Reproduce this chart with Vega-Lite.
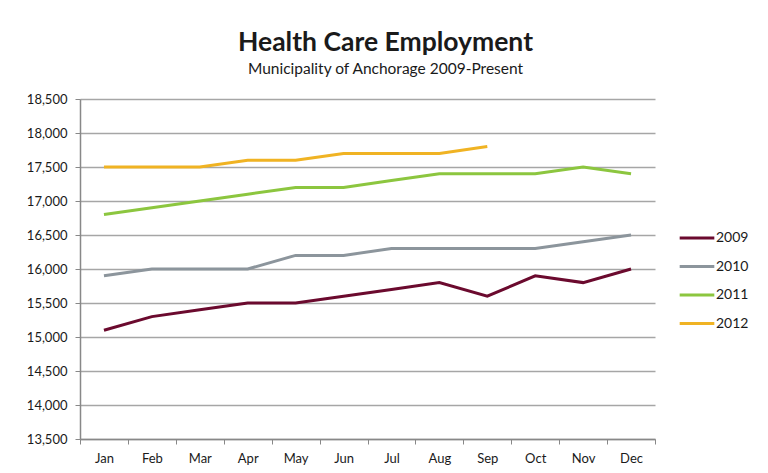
{
  "$schema": "https://vega.github.io/schema/vega-lite/v6.json",
  "width": 575,
  "height": 340,
  "autosize": {"type": "none"},
  "padding": {"left": 80, "top": 99, "right": 113, "bottom": 34},
  "background": "white",
  "title": {
    "text": "Health Care Employment",
    "subtitle": "Municipality of Anchorage 2009-Present",
    "anchor": "middle",
    "dx": 18,
    "offset": 16,
    "font": "Lato",
    "fontSize": 26.5,
    "fontWeight": "bold",
    "color": "#1a1a1a",
    "subtitleFont": "Lato",
    "subtitleFontSize": 15.5,
    "subtitleColor": "#1a1a1a",
    "subtitlePadding": 5
  },
  "data": {
    "values": [
      {"month": "Jan", "year": "2009", "value": 15100},
      {"month": "Feb", "year": "2009", "value": 15300},
      {"month": "Mar", "year": "2009", "value": 15400},
      {"month": "Apr", "year": "2009", "value": 15500},
      {"month": "May", "year": "2009", "value": 15500},
      {"month": "Jun", "year": "2009", "value": 15600},
      {"month": "Jul", "year": "2009", "value": 15700},
      {"month": "Aug", "year": "2009", "value": 15800},
      {"month": "Sep", "year": "2009", "value": 15600},
      {"month": "Oct", "year": "2009", "value": 15900},
      {"month": "Nov", "year": "2009", "value": 15800},
      {"month": "Dec", "year": "2009", "value": 16000},
      {"month": "Jan", "year": "2010", "value": 15900},
      {"month": "Feb", "year": "2010", "value": 16000},
      {"month": "Mar", "year": "2010", "value": 16000},
      {"month": "Apr", "year": "2010", "value": 16000},
      {"month": "May", "year": "2010", "value": 16200},
      {"month": "Jun", "year": "2010", "value": 16200},
      {"month": "Jul", "year": "2010", "value": 16300},
      {"month": "Aug", "year": "2010", "value": 16300},
      {"month": "Sep", "year": "2010", "value": 16300},
      {"month": "Oct", "year": "2010", "value": 16300},
      {"month": "Nov", "year": "2010", "value": 16400},
      {"month": "Dec", "year": "2010", "value": 16500},
      {"month": "Jan", "year": "2011", "value": 16800},
      {"month": "Feb", "year": "2011", "value": 16900},
      {"month": "Mar", "year": "2011", "value": 17000},
      {"month": "Apr", "year": "2011", "value": 17100},
      {"month": "May", "year": "2011", "value": 17200},
      {"month": "Jun", "year": "2011", "value": 17200},
      {"month": "Jul", "year": "2011", "value": 17300},
      {"month": "Aug", "year": "2011", "value": 17400},
      {"month": "Sep", "year": "2011", "value": 17400},
      {"month": "Oct", "year": "2011", "value": 17400},
      {"month": "Nov", "year": "2011", "value": 17500},
      {"month": "Dec", "year": "2011", "value": 17400},
      {"month": "Jan", "year": "2012", "value": 17500},
      {"month": "Feb", "year": "2012", "value": 17500},
      {"month": "Mar", "year": "2012", "value": 17500},
      {"month": "Apr", "year": "2012", "value": 17600},
      {"month": "May", "year": "2012", "value": 17600},
      {"month": "Jun", "year": "2012", "value": 17700},
      {"month": "Jul", "year": "2012", "value": 17700},
      {"month": "Aug", "year": "2012", "value": 17700},
      {"month": "Sep", "year": "2012", "value": 17800}
    ]
  },
  "mark": {"type": "line", "strokeWidth": 3},
  "encoding": {
    "x": {
      "field": "month",
      "type": "ordinal",
      "sort": ["Jan","Feb","Mar","Apr","May","Jun","Jul","Aug","Sep","Oct","Nov","Dec"],
      "scale": {"type": "band", "paddingInner": 0, "paddingOuter": 0},
      "axis": {
        "title": null,
        "labelAngle": 0,
        "labelFont": "Lato",
        "labelFontSize": 13,
        "labelColor": "#1a1a1a",
        "labelPadding": 8,
        "domainColor": "#888888",
        "domainWidth": 1.5,
        "tickColor": "#888888",
        "tickWidth": 1,
        "tickSize": 5,
        "tickBand": "extent",
        "grid": false
      }
    },
    "y": {
      "field": "value",
      "type": "quantitative",
      "scale": {"domain": [13500, 18500], "zero": false, "nice": false},
      "axis": {
        "title": null,
        "values": [13500,14000,14500,15000,15500,16000,16500,17000,17500,18000,18500],
        "format": ",d",
        "labelFont": "Lato",
        "labelFontSize": 13,
        "labelColor": "#1a1a1a",
        "labelPadding": 8,
        "domainColor": "#888888",
        "domainWidth": 1.5,
        "tickColor": "#888888",
        "tickSize": 5,
        "grid": true,
        "gridColor": "#a6a6a6",
        "gridWidth": 1.5
      }
    },
    "color": {
      "field": "year",
      "type": "nominal",
      "scale": {"domain": ["2009","2010","2011","2012"], "range": ["#6b0a2e","#8c959c","#8cc63f","#f0b323"]},
      "legend": {
        "title": null,
        "orient": "none",
        "legendX": 598,
        "legendY": 120,
        "symbolType": "stroke",
        "symbolSize": 1200,
        "symbolStrokeWidth": 3,
        "labelFont": "Lato",
        "labelFontSize": 14,
        "labelColor": "#1a1a1a",
        "labelOffset": 0,
        "rowPadding": 2.5
      }
    }
  },
  "config": {"view": {"stroke": null}}
}
